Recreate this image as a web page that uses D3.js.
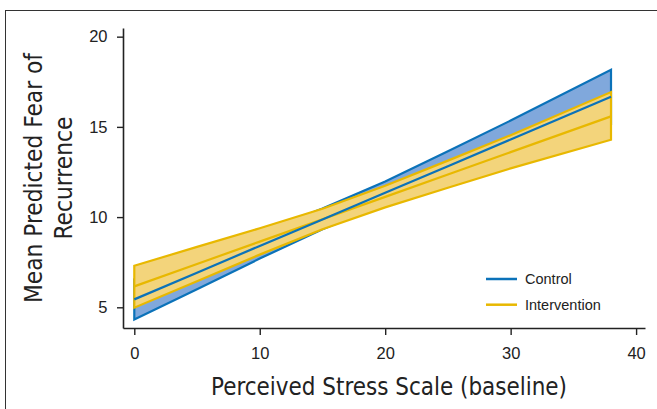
<!DOCTYPE html>
<html>
<head>
<meta charset="utf-8">
<script src="https://cdn.jsdelivr.net/npm/d3@7"></script>
<style>
  body { margin: 0; background: #fff; }
  svg { display: block; }
</style>
</head>
<body>
<div id="graph"></div>
<script>
// values
const stress = [0, 5, 10, 15, 20, 25, 30, 38];

const controlMean  = [5.44, 6.92, 8.40, 9.87, 11.35, 12.82, 14.30, 16.67];
const controlUpper = [6.55, 7.80, 9.10, 10.47, 11.97, 13.65, 15.35, 18.17];
const controlLower = [4.33, 6.00, 7.70, 9.33, 10.73, 12.05, 13.25, 15.15];

const interMean  = [6.16, 7.40, 8.64, 9.88, 11.12, 12.36, 13.60, 15.58];
const interUpper = [7.30, 8.35, 9.38, 10.46, 11.74, 13.13, 14.54, 16.93];
const interLower = [4.98, 6.45, 7.92, 9.33, 10.54, 11.63, 12.70, 14.29];

const xTicks = [0, 10, 20, 30, 40];
const yTicks = [5, 10, 15, 20];
const legendNames = ["Control", "Intervention"];

const blue = "#0b72b9", blueFill = "#80a8dc";
const gold = "#e8b800", goldFill = "#f3d47b";

const W = 657, H = 409;
const svg = d3.select("#graph").append("svg")
    .attr("width", W).attr("height", H);

// frame round the figure
svg.append("rect")
    .attr("x", 5.5).attr("y", 10.5)
    .attr("width", 700).attr("height", 500)
    .attr("fill", "none").attr("stroke", "#333").attr("stroke-width", 1);

let x = d3.scaleLinear().domain([-0.9, 40.71]).range([123, 645]);
let y = d3.scaleLinear().domain([3.853, 20.48]).range([328, 28]);

function rows(mean, lo, hi) {
  return stress.map((s, i) => ({x: s, m: mean[i], lo: lo[i], hi: hi[i]}));
}
const control = rows(controlMean, controlLower, controlUpper);
const inter = rows(interMean, interLower, interUpper);

let band = d3.area()
    .x(d => x(d.x))
    .y0(d => y(d.lo))
    .y1(d => y(d.hi));
let meanLine = d3.line()
    .x(d => x(d.x))
    .y(d => y(d.m));

const plot = svg.append("g");

plot.append("path").datum(control)
    .attr("d", band)
    .attr("fill", blueFill).attr("stroke", blue)
    .attr("stroke-width", 2.2).attr("stroke-linejoin", "miter");

plot.append("path").datum(inter)
    .attr("d", band)
    .attr("fill", goldFill).attr("stroke", gold)
    .attr("stroke-width", 2.2).attr("stroke-linejoin", "miter");

plot.append("path").datum(inter)
    .attr("d", meanLine)
    .attr("fill", "none").attr("stroke", gold).attr("stroke-width", 2.2);

plot.append("path").datum(control)
    .attr("d", meanLine)
    .attr("fill", "none").attr("stroke", blue).attr("stroke-width", 2.2);

// axes
const tickFont = "'Liberation Sans', Arial, sans-serif";
const titleFont = "'Liberation Sans Narrow', 'Arial Narrow', 'DejaVu Sans Condensed', sans-serif";

let yAxis = svg.append("g")
    .attr("transform", "translate(123,0)")
    .call(d3.axisLeft(y).tickValues(yTicks).tickSize(6).tickSizeOuter(0).tickPadding(9.5));
let xAxis = svg.append("g")
    .attr("transform", "translate(0,328)")
    .call(d3.axisBottom(x).tickValues(xTicks).tickSize(7).tickSizeOuter(0).tickPadding(12));

[xAxis, yAxis].forEach(a => {
  a.select(".domain").attr("stroke", "#222").attr("stroke-width", 1.6);
  a.selectAll(".tick line").attr("stroke", "#222").attr("stroke-width", 1.4);
  a.selectAll(".tick text")
      .attr("fill", "#222")
      .style("font-family", tickFont)
      .style("font-size", "16.5px");
});

// axis titles
svg.append("text")
    .attr("x", 389).attr("y", 395)
    .attr("text-anchor", "middle")
    .attr("textLength", 356).attr("lengthAdjust", "spacingAndGlyphs")
    .style("font-family", titleFont).style("font-size", "24.5px")
    .attr("fill", "#222")
    .text("Perceived Stress Scale (baseline)");

const yTitle = svg.append("text")
    .attr("transform", "translate(0,178) rotate(-90)")
    .attr("text-anchor", "middle")
    .style("font-family", titleFont).style("font-size", "24.5px")
    .attr("fill", "#222");
yTitle.append("tspan").attr("x", 0).attr("y", 42)
    .attr("textLength", 250).attr("lengthAdjust", "spacingAndGlyphs")
    .text("Mean Predicted Fear of");
yTitle.append("tspan").attr("x", 0).attr("y", 72)
    .attr("textLength", 123).attr("lengthAdjust", "spacingAndGlyphs")
    .text("Recurrence");

// legend
const legend = svg.append("g").attr("transform", "translate(486,279)");
legendNames.forEach((name, i) => {
  let row = legend.append("g").attr("transform", "translate(0," + (i * 25.7) + ")");
  row.append("line")
      .attr("x1", 0).attr("x2", 31)
      .attr("stroke", i === 0 ? blue : gold).attr("stroke-width", 2.5);
  row.append("text")
      .attr("x", 39).attr("y", 5)
      .style("font-family", tickFont).style("font-size", "14.5px")
      .attr("fill", "#222")
      .text(name);
});
</script>
</body>
</html>
